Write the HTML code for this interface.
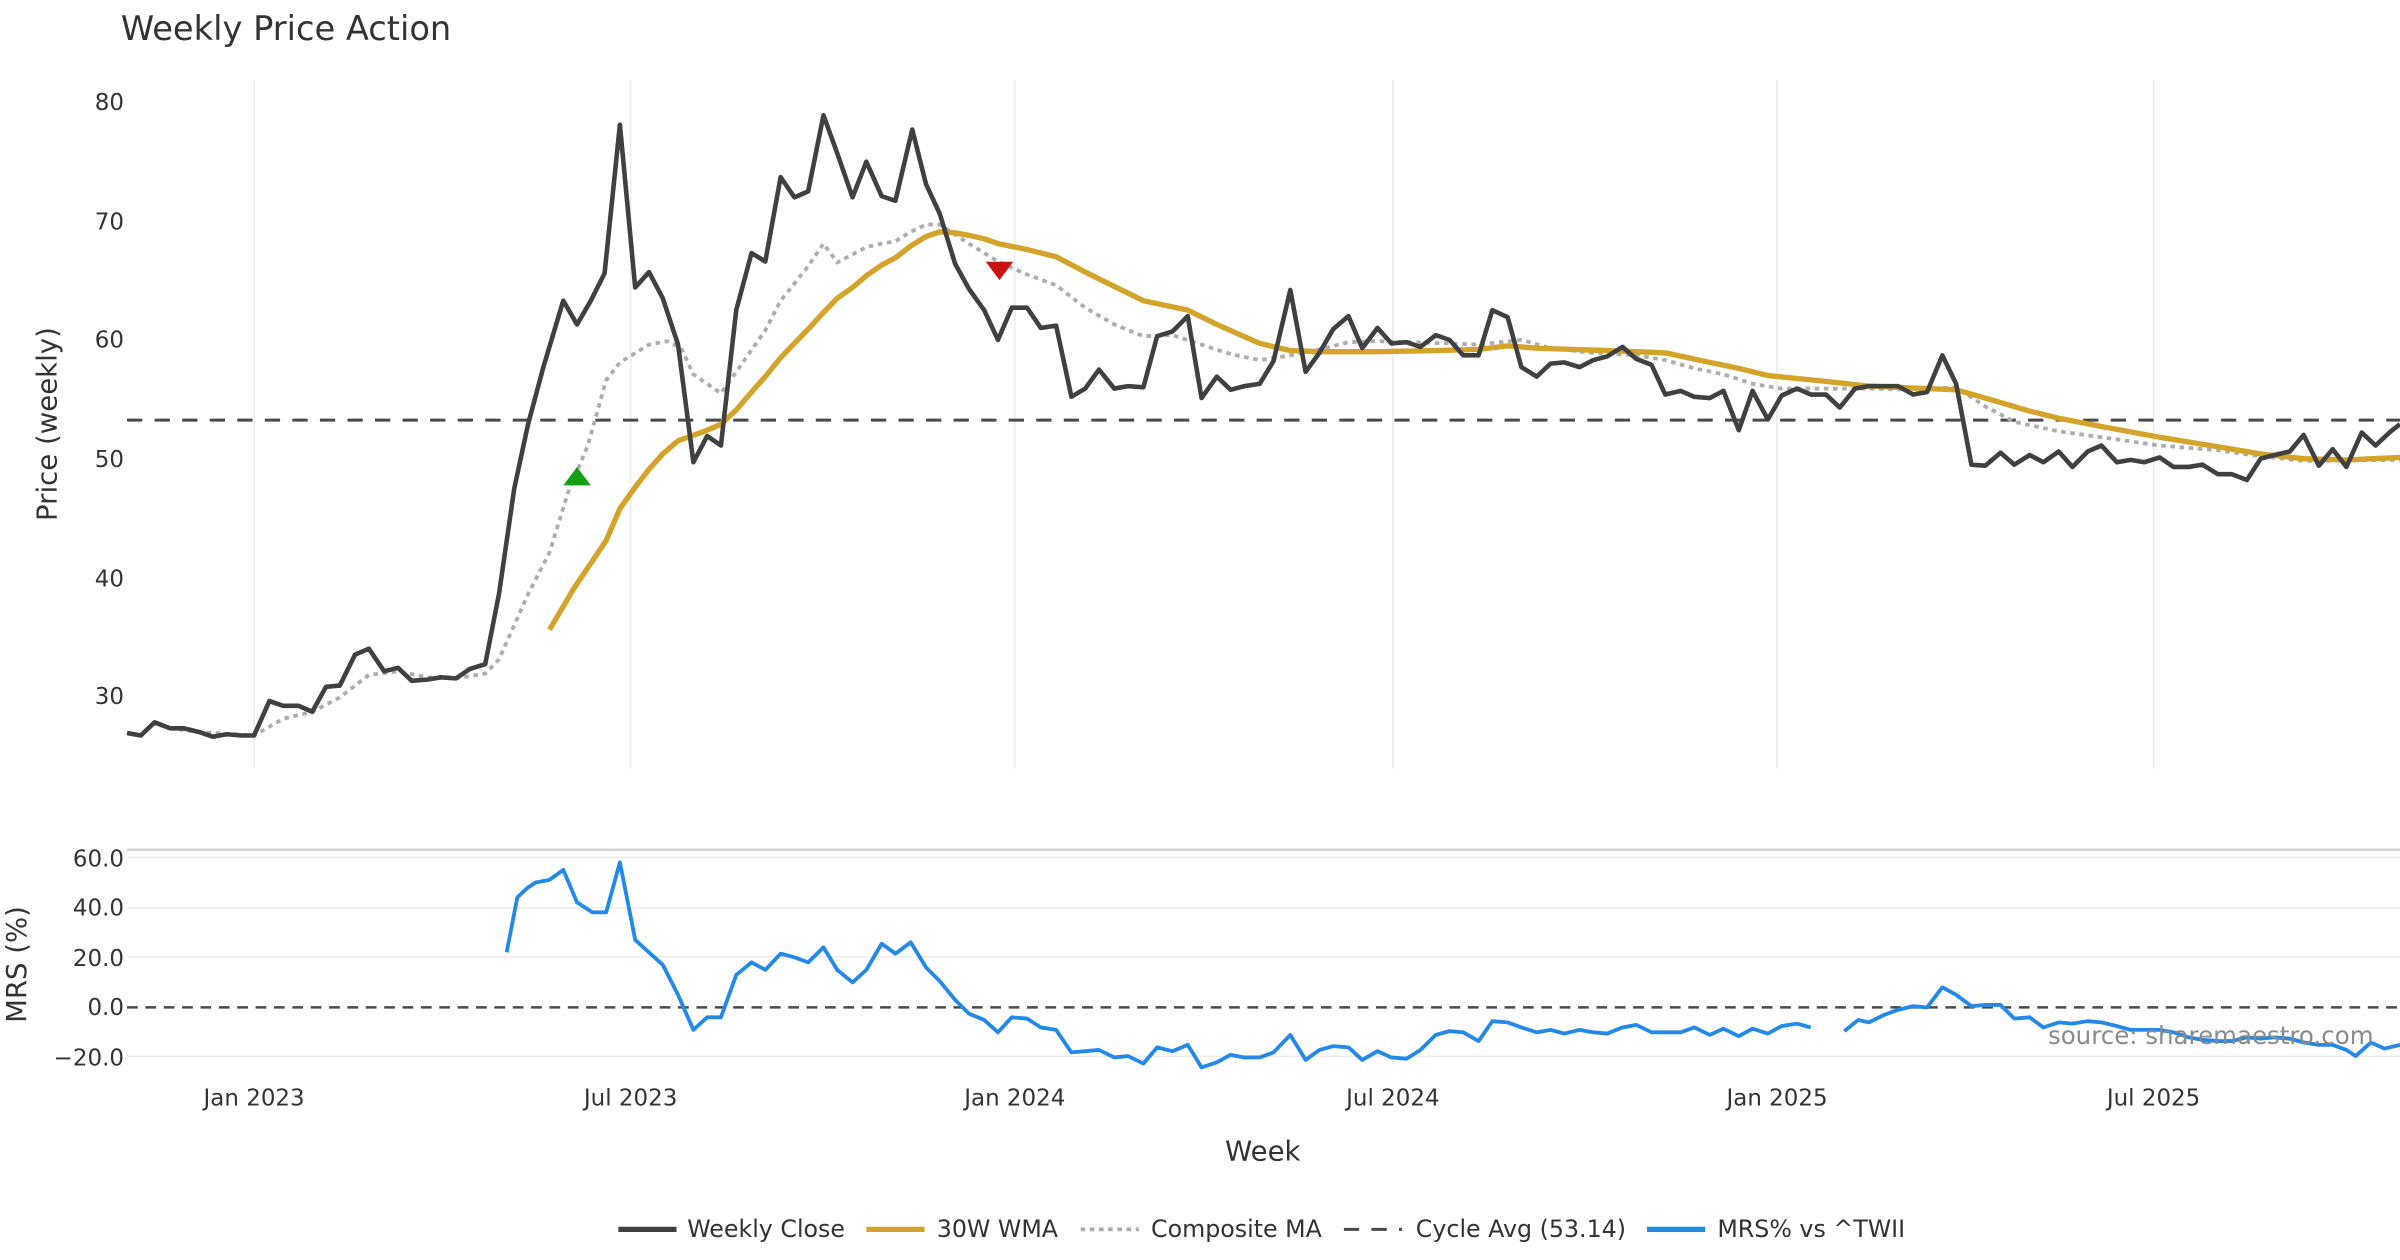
<!DOCTYPE html>
<html><head><meta charset="utf-8">
<style>
html,body{margin:0;padding:0;background:#fff;}
svg{display:block;}
text{font-family:"DejaVu Sans","Liberation Sans",sans-serif;fill:#333;}
</style></head>
<body>
<svg id="c" width="2400" height="1260" viewBox="0 0 1568 823" preserveAspectRatio="none" xmlns="http://www.w3.org/2000/svg">
<rect width="1568" height="823" fill="#fff"/>
<text x="79" y="26" font-size="22">Weekly Price Action</text>
<g stroke="#ebebeb" stroke-width="1">
<line x1="166" y1="52" x2="166" y2="502"/><line x1="412" y1="52" x2="412" y2="502"/>
<line x1="663" y1="52" x2="663" y2="502"/><line x1="910" y1="52" x2="910" y2="502"/>
<line x1="1161" y1="52" x2="1161" y2="502"/><line x1="1407" y1="52" x2="1407" y2="502"/>
<line x1="83" y1="560" x2="1568" y2="560"/><line x1="83" y1="593" x2="1568" y2="593"/>
<line x1="83" y1="625" x2="1568" y2="625"/><line x1="83" y1="690" x2="1568" y2="690"/>
</g>
<line x1="83" y1="555" x2="1568" y2="555" stroke="#d0d0d0" stroke-width="1.5"/>
<g font-size="15" text-anchor="end">
<text x="81" y="72">80</text><text x="81" y="150">70</text><text x="81" y="227">60</text>
<text x="81" y="305">50</text><text x="81" y="383">40</text><text x="81" y="460">30</text>
<text x="81" y="566">60.0</text><text x="81" y="598">40.0</text><text x="81" y="631">20.0</text>
<text x="81" y="663">0.0</text><text x="81" y="696">−20.0</text>
</g>
<g font-size="15" text-anchor="middle">
<text x="166" y="722">Jan 2023</text><text x="412" y="722">Jul 2023</text><text x="663" y="722">Jan 2024</text>
<text x="910" y="722">Jul 2024</text><text x="1161" y="722">Jan 2025</text><text x="1407" y="722">Jul 2025</text>
</g>
<text x="825" y="758" font-size="18" text-anchor="middle">Week</text>
<text transform="translate(37,277) rotate(-90)" font-size="18" text-anchor="middle">Price (weekly)</text>
<text transform="translate(17,630) rotate(-90)" font-size="18" text-anchor="middle">MRS (%)</text>
<line x1="83" y1="274.4" x2="1568" y2="274.4" stroke="#4a4a4a" stroke-width="2" stroke-dasharray="10 8"/>
<line x1="83" y1="658" x2="1568" y2="658" stroke="#4a4a4a" stroke-width="1.6" stroke-dasharray="7 5"/>
<g id="series"></g>
<polygon points="368,317 386,317 377,305" fill="#12a012"/>
<polygon points="644,171 662,171 653,183" fill="#cc1111"/>
<text x="1338" y="682" font-size="16" style="fill:#8a8a8a">source: sharemaestro.com</text>
<g font-size="15.5">
<line x1="404" y1="803" x2="442" y2="803" stroke="#404040" stroke-width="3.5"/><text x="449" y="808">Weekly Close</text>
<line x1="566" y1="803" x2="604" y2="803" stroke="#d4a32a" stroke-width="3.5"/><text x="612" y="808">30W WMA</text>
<line x1="706" y1="803" x2="744" y2="803" stroke="#aaa" stroke-width="2.5" stroke-dasharray="3 3"/><text x="752" y="808">Composite MA</text>
<line x1="878" y1="803" x2="916" y2="803" stroke="#4a4a4a" stroke-width="2" stroke-dasharray="10 8"/><text x="925" y="808">Cycle Avg (53.14)</text>
<line x1="1076" y1="803" x2="1114" y2="803" stroke="#2389e8" stroke-width="3.5"/><text x="1122" y="808">MRS% vs ^TWII</text>
</g>
</svg>
<script>
function yp(v){return 66+(80-v)*7.76;}
function ym(v){return 658-v*1.633;}
var close=[83,26.8,92,26.6,101,27.7,111,27.2,120,27.2,130,26.9,139,26.5,148,26.7,158,26.6,166,26.6,176,29.5,185,29.1,195,29.1,204,28.6,213,30.7,222,30.8,232,33.4,241,33.9,251,32.0,260,32.3,269,31.2,279,31.3,288,31.5,298,31.4,307,32.2,317,32.6,326,38.5,336,47.4,345,52.8,355,57.6,368,63.2,377,61.2,386,63.2,395,65.5,405,78,415,64.3,424,65.6,433,63.4,443,59.5,453,49.6,462,51.8,471,51.0,481,62.4,491,67.2,500,66.5,510,73.6,519,71.9,528,72.4,538,78.8,547,75.6,557,71.9,566,74.9,576,72.0,585,71.6,596,77.6,605,73.0,614,70.5,624,66.3,633,64.2,643,62.4,652,59.9,661,62.6,671,62.6,680,60.9,690,61.1,700,55.1,709,55.8,718,57.4,728,55.8,737,56.0,747,55.9,756,60.2,766,60.6,776,61.9,785,55.0,795,56.8,804,55.7,813,56.0,823,56.2,832,58.1,843,64.1,853,57.2,862,58.8,871,60.8,881,61.9,890,59.2,900,60.9,909,59.6,919,59.7,928,59.3,938,60.3,947,59.9,956,58.6,966,58.6,975,62.4,985,61.8,994,57.6,1004,56.8,1013,57.9,1022,58.0,1032,57.6,1041,58.2,1050,58.5,1060,59.3,1069,58.3,1079,57.8,1088,55.3,1098,55.6,1107,55.1,1117,55.0,1126,55.6,1136,52.3,1145,55.6,1155,53.2,1164,55.2,1174,55.8,1183,55.3,1193,55.3,1202,54.2,1212,55.8,1221,56.0,1231,56.0,1240,56.0,1250,55.3,1259,55.5,1269,58.6,1278,56.2,1288,49.4,1297,49.3,1307,50.4,1316,49.4,1326,50.2,1335,49.6,1345,50.5,1354,49.2,1364,50.5,1373,51.0,1383,49.6,1392,49.8,1401,49.6,1411,50.0,1420,49.2,1430,49.2,1439,49.4,1449,48.6,1458,48.6,1468,48.1,1477,49.9,1486,50.2,1496,50.5,1505,51.9,1515,49.3,1524,50.7,1533,49.2,1543,52.1,1552,51.0,1562,52.2,1568,52.8];
var wma=[359,35.5,375,39,396,43,405,45.7,415,47.5,424,49,433,50.3,443,51.4,462,52.3,471,52.8,481,54,491,55.5,500,56.8,510,58.4,519,59.6,528,60.8,538,62.2,547,63.4,557,64.3,566,65.3,576,66.2,585,66.8,595,67.8,605,68.6,614,69.0,624,68.9,633,68.7,643,68.4,652,68.0,671,67.5,690,66.9,709,65.6,728,64.4,747,63.2,776,62.4,795,61.2,823,59.6,843,59.0,862,58.9,900,58.9,938,59.0,966,59.1,985,59.4,1004,59.2,1050,59.0,1088,58.8,1117,58.0,1136,57.5,1155,56.9,1193,56.4,1221,56.0,1259,55.8,1278,55.7,1297,55.0,1326,53.9,1345,53.3,1373,52.6,1411,51.7,1449,50.9,1477,50.3,1505,49.9,1533,49.8,1568,50.0];
var comp=[111,27.2,130,26.9,166,26.6,185,28.0,204,28.6,222,29.8,241,31.7,260,32.0,279,31.5,298,31.4,317,31.8,326,33,345,38.5,359,42,371,47,384,51,396,56.5,405,58,424,59.5,436,59.8,445,59.2,453,57.0,471,55.4,481,57.2,500,60.7,510,63.2,528,66.1,538,68,547,66.4,566,67.7,576,68.0,585,68.2,595,69.0,605,69.6,614,69.6,633,68.0,652,66.5,671,65.4,690,64.5,709,62.6,728,61.2,747,60.2,766,60.3,785,59.5,804,58.7,823,58.2,843,58.6,862,59.1,881,59.7,900,59.8,919,59.7,947,59.6,966,59.5,994,59.9,1013,59.2,1041,58.8,1069,58.6,1088,58.2,1107,57.5,1126,57.0,1145,56.2,1164,55.8,1193,55.8,1221,55.8,1250,55.7,1278,55.9,1297,54.3,1316,53.0,1345,52.2,1373,51.7,1411,51.0,1449,50.6,1477,50.1,1505,49.7,1568,49.8];
var mrs1=[331,22,338,44,345,48,350,50,359,51,368,55,377,42,387,38,396,38,405,58,415,27,424,22,433,17,443,5,453,-9,462,-4,471,-4,481,13,491,18,500,15,510,21.5,519,20,528,18,538,24,547,15,557,10,566,15,576,25.5,585,21.5,595,26,605,16,614,10.5,624,3,633,-2.5,643,-5,652,-10,661,-4,671,-4.5,680,-8,690,-9,700,-18,709,-17.5,718,-17,728,-20,737,-19.5,747,-22.5,756,-16,766,-17.5,776,-15,785,-24,795,-22,804,-19,813,-20,823,-20,832,-18,843,-11,853,-21,862,-17,871,-15.5,881,-16,890,-21,900,-17.5,909,-20,919,-20.5,928,-17,938,-11,947,-9.5,956,-10,966,-13.5,975,-5.5,985,-6,994,-8,1004,-10,1013,-9,1022,-10.5,1032,-9,1041,-10,1050,-10.5,1060,-8,1069,-7,1079,-10,1088,-10,1098,-10,1107,-8,1117,-11,1126,-8.5,1136,-11.5,1145,-8.5,1155,-10.5,1164,-7.5,1174,-6.5,1183,-8];
var mrs2=[1205,-9.5,1214,-5,1221,-6,1231,-3,1240,-1,1250,0.5,1259,0,1269,8,1278,5,1288,0.5,1297,1,1307,1,1316,-4.5,1326,-4,1335,-8,1345,-6,1354,-6.5,1364,-5.5,1373,-6,1383,-7.5,1392,-9,1401,-9,1411,-9,1420,-10,1430,-12,1439,-13,1449,-13.5,1458,-13.5,1468,-12,1477,-12.5,1486,-12,1496,-12.5,1505,-14,1515,-15,1524,-15,1533,-17,1539,-19.5,1549,-14,1558,-16.5,1568,-15];
function pts(a,f){var s=[];for(var i=0;i<a.length;i+=2)s.push(a[i]+","+f(a[i+1]).toFixed(1));return s.join(" ");}
var g=document.getElementById("series"),ns="http://www.w3.org/2000/svg";
function pl(a,f,st,w,da){var p=document.createElementNS(ns,"polyline");p.setAttribute("points",pts(a,f));p.setAttribute("fill","none");p.setAttribute("stroke",st);p.setAttribute("stroke-width",w);p.setAttribute("stroke-linejoin","round");if(da)p.setAttribute("stroke-dasharray",da);g.appendChild(p);}
pl(comp,yp,"#adadad",2.5,"3 3");
pl(wma,yp,"#d4a32a",3.5);
pl(close,yp,"#404040",3);
pl(mrs1,ym,"#2389e8",2.5);
pl(mrs2,ym,"#2389e8",2.5);
</script>
</body></html>
